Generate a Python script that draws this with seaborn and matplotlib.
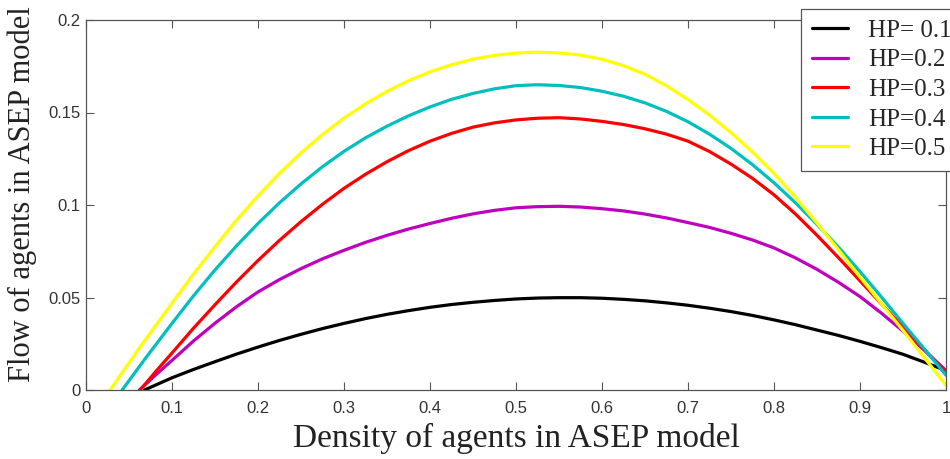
import matplotlib
matplotlib.use("Agg")
import matplotlib.pyplot as plt
import seaborn as sns
import pandas as pd

# ---- data ----
labels = ["HP= 0.1", "HP=0.2", "HP=0.3", "HP=0.4", "HP=0.5"]
colors = ["#000000", "#BF00BF", "#FF0000", "#00BFBF", "#FFFF00"]

grid = [0.1, 0.125, 0.15, 0.175, 0.2, 0.225, 0.25, 0.275, 0.3, 0.325,
        0.35, 0.375, 0.4, 0.425, 0.45, 0.475, 0.5, 0.525, 0.55, 0.575,
        0.6, 0.625, 0.65, 0.675, 0.7, 0.725, 0.75, 0.775, 0.8, 0.825,
        0.85, 0.875, 0.9, 0.925, 0.95, 0.975, 1.0]

x_hp1 = [0.068, 0.084] + grid
y_hp1 = [0.0, 0.0033,
         0.0066, 0.0111, 0.0153, 0.0194, 0.0232, 0.0268, 0.0301, 0.0332, 0.0360,
         0.0386, 0.0409, 0.0429, 0.0447, 0.0462, 0.0474, 0.0484, 0.0492, 0.0497,
         0.0499, 0.0499, 0.0496, 0.0490, 0.0482, 0.0471, 0.0458, 0.0442, 0.0424,
         0.0403, 0.0379, 0.0353, 0.0324, 0.0295, 0.0263, 0.0229, 0.0193, 0.0150,
         0.0105]

x_hp2 = [0.062, 0.081] + grid
y_hp2 = [0.0, 0.0081,
         0.0160, 0.0265, 0.0361, 0.0450, 0.0530, 0.0597, 0.0656, 0.0709, 0.0755,
         0.0798, 0.0836, 0.0870, 0.0900, 0.0928, 0.0952, 0.0971, 0.0985, 0.0991,
         0.0993, 0.0989, 0.0980, 0.0968, 0.0951, 0.0930, 0.0905, 0.0879, 0.0847,
         0.0811, 0.0768, 0.0714, 0.0652, 0.0582, 0.0505, 0.0415, 0.0318, 0.0214,
         0.0105]

x_hp3 = [0.063, 0.0815] + grid
y_hp3 = [0.0, 0.0102,
         0.0200, 0.0334, 0.0461, 0.0584, 0.0700, 0.0809, 0.0910, 0.1004, 0.1090,
         0.1166, 0.1234, 0.1294, 0.1345, 0.1387, 0.1421, 0.1444, 0.1460, 0.1469,
         0.1472, 0.1465, 0.1452, 0.1435, 0.1412, 0.1383, 0.1345, 0.1289, 0.1221,
         0.1144, 0.1055, 0.0951, 0.0836, 0.0715, 0.0590, 0.0465, 0.0340, 0.0217,
         0.0095]

x_hp4 = [0.042, 0.071] + grid
y_hp4 = [0.0, 0.0183,
         0.0360, 0.0509, 0.0649, 0.0779, 0.0900, 0.1012, 0.1114, 0.1207, 0.1290,
         0.1363, 0.1426, 0.1482, 0.1530, 0.1571, 0.1603, 0.1628, 0.1645, 0.1650,
         0.1646, 0.1635, 0.1615, 0.1588, 0.1552, 0.1506, 0.1450, 0.1383, 0.1306,
         0.1218, 0.1120, 0.1012, 0.0895, 0.0772, 0.0640, 0.0502, 0.0360, 0.0221,
         0.0080]

x_hp5 = [0.028, 0.064] + grid
y_hp5 = [0.0, 0.0240,
         0.0470, 0.0627, 0.0775, 0.0918, 0.1050, 0.1171, 0.1282, 0.1381, 0.1470,
         0.1547, 0.1614, 0.1672, 0.1720, 0.1758, 0.1788, 0.1809, 0.1821, 0.1826,
         0.1822, 0.1810, 0.1788, 0.1753, 0.1706, 0.1644, 0.1570, 0.1486, 0.1391,
         0.1286, 0.1170, 0.1041, 0.0902, 0.0758, 0.0610, 0.0466, 0.0322, 0.0174,
         0.0025]

xticks = [0, 0.1, 0.2, 0.3, 0.4, 0.5, 0.6, 0.7, 0.8, 0.9, 1.0]
xticklabels = ["0", "0.1", "0.2", "0.3", "0.4", "0.5", "0.6", "0.7", "0.8", "0.9", "1"]
yticks = [0, 0.05, 0.1, 0.15, 0.2]
yticklabels = ["0", "0.05", "0.1", "0.15", "0.2"]

series_x = [x_hp1, x_hp2, x_hp3, x_hp4, x_hp5]
series_y = [y_hp1, y_hp2, y_hp3, y_hp4, y_hp5]

# ---- plotting ----
sns.set_theme(style="white")
plt.rcParams["font.family"] = ["Liberation Sans", "DejaVu Sans"]

fig = plt.figure(figsize=(9.5, 4.59), dpi=100)
ax = fig.add_axes([86 / 950, 1 - 390 / 459, 860 / 950, 370 / 459])

for xs, ys, lab, col in zip(series_x, series_y, labels, colors):
    df = pd.DataFrame({"x": xs, "y": ys})
    sns.lineplot(data=df, x="x", y="y", ax=ax, color=col, linewidth=2.3,
                 label=lab, sort=False, estimator=None)

ax.set_xlim(0, 1)
ax.set_ylim(0, 0.2)
ax.set_xticks(xticks)
ax.set_xticklabels(xticklabels)
ax.set_yticks(yticks)
ax.set_yticklabels(yticklabels)

for sp in ax.spines.values():
    sp.set_visible(True)
    sp.set_color("#555555")
    sp.set_linewidth(0.9)

ax.tick_params(axis="both", which="major", direction="in", length=6, width=0.8,
               color="#555555", labelsize=12, labelcolor="#333333",
               top=True, right=True, bottom=True, left=True)
ax.tick_params(axis="x", pad=8)
ax.tick_params(axis="y", pad=4)

serif = ["Liberation Serif", "DejaVu Serif"]
ax.set_xlabel("Density of agents in ASEP model", fontsize=24, family=serif,
              color="#222222", labelpad=5)
ax.set_ylabel("Flow of agents in ASEP model", fontsize=22, family=serif,
              color="#222222")
ax.yaxis.set_label_coords(-0.057, 0.53)

leg = ax.legend(loc="upper left", bbox_to_anchor=(801 / 950, 1 - 9 / 459),
                bbox_transform=fig.transFigure, prop={"family": serif, "size": 18},
                frameon=True, fancybox=False, edgecolor="#555555", framealpha=1,
                handlelength=1.45, handletextpad=0.8, borderpad=0.42,
                labelspacing=0.28, borderaxespad=0)
leg.get_frame().set_linewidth(0.9)
for line in leg.get_lines():
    line.set_linewidth(2.3)

fig.savefig("out.png", dpi=100)
